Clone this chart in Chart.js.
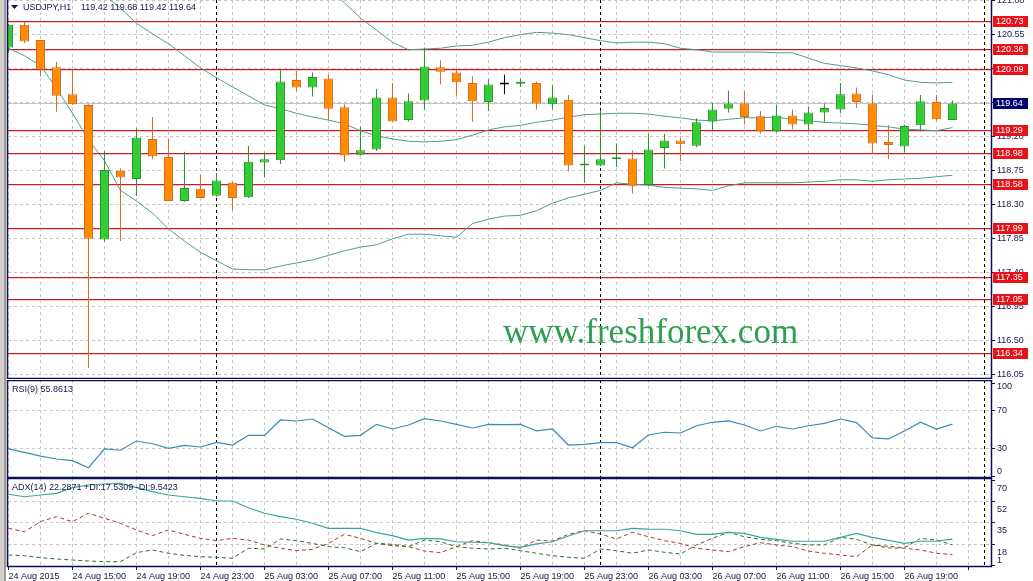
<!DOCTYPE html>
<html>
<head>
<meta charset="utf-8">
<script src="https://cdn.jsdelivr.net/npm/chart.js@4.4.0/dist/chart.umd.min.js"></script>
<style>
  html, body { margin: 0; padding: 0; background: #fff; }
  body { width: 1033px; height: 581px; position: relative; overflow: hidden; }
  canvas { position: absolute; left: 0; }
  #edge { position: absolute; left: 0; top: 0; width: 4px; height: 581px; background: #d4d0c8; border-right: 2px solid #9c9c9c; }
</style>
</head>
<body>
<canvas id="mainChart" width="1033" height="379" style="top:0"></canvas>
<canvas id="rsiChart" width="1033" height="98" style="top:380px"></canvas>
<canvas id="adxChart" width="1033" height="104" style="top:478px"></canvas>
<div id="edge"></div>
<script>
// USDJPY H1, one value per hourly bar (24 Aug 11:00 .. 26 Aug 22:00)
const opens = [120.38,120.68,120.48,120.12,119.76,119.62,117.84,118.75,118.64,119.17,
  118.93,118.35,118.51,118.42,118.59,118.40,118.86,118.89,119.95,119.85,
  119.97,119.59,118.96,119.03,119.72,119.42,119.68,120.12,120.05,119.91,
  119.66,119.89,119.90,119.91,119.63,119.69,118.82,118.82,118.90,118.91,
  118.56,119.05,119.15,119.08,119.40,119.57,119.64,119.47,119.27,119.48,
  119.36,119.52,119.56,119.77,119.64,119.13,119.07,119.35,119.66,119.42];
const highs = [120.69,120.72,120.48,120.19,120.09,119.63,119.01,118.78,119.31,119.46,
  119.17,119.00,118.70,118.72,118.60,119.08,118.99,120.08,120.07,120.05,
  120.02,119.63,119.33,119.83,119.91,119.77,120.38,120.21,120.08,120.00,
  119.96,120.02,119.97,119.93,119.88,119.75,119.08,119.55,119.11,119.02,
  119.24,119.24,119.19,119.44,119.65,119.81,119.80,119.54,119.62,119.56,
  119.60,119.64,119.91,119.85,119.76,119.35,119.36,119.75,119.75,119.68];
const lows = [120.31,120.44,120.00,119.53,119.62,116.14,117.81,117.82,118.42,118.90,
  118.35,118.34,118.39,118.41,118.23,118.39,118.66,118.84,119.80,119.73,
  119.42,118.87,118.95,119.01,119.40,119.40,119.56,119.89,119.74,119.40,
  119.54,119.76,119.86,119.56,119.56,118.74,118.59,118.81,118.80,118.45,
  118.55,118.78,118.88,119.06,119.29,119.52,119.36,119.24,119.26,119.30,
  119.27,119.39,119.51,119.58,118.97,118.90,118.99,119.27,119.41,119.42];
const closes = [120.68,120.46,120.09,119.74,119.63,117.85,118.76,118.66,119.19,118.94,
  118.35,118.52,118.39,118.62,118.39,118.87,118.90,119.93,119.85,119.99,
  119.57,118.95,119.02,119.72,119.40,119.67,120.13,120.06,119.92,119.67,
  119.89,119.89,119.92,119.64,119.72,118.82,118.83,118.90,118.91,118.55,
  119.03,119.15,119.10,119.39,119.56,119.64,119.46,119.27,119.48,119.36,
  119.52,119.58,119.76,119.66,119.11,119.09,119.34,119.67,119.43,119.64];

// Bollinger bands
const bbUpper = [122.97,122.86,122.78,122.71,122.64,122.57,122.50,122.49,122.40,122.29,
  122.26,122.17,122.12,122.03,121.93,121.83,121.67,121.54,121.41,121.30,
  121.17,120.97,120.77,120.61,120.45,120.35,120.36,120.37,120.40,120.41,
  120.45,120.51,120.55,120.58,120.57,120.55,120.51,120.47,120.44,120.45,
  120.45,120.43,120.37,120.35,120.32,120.32,120.32,120.32,120.31,120.31,
  120.24,120.17,120.14,120.11,120.07,120.02,119.95,119.92,119.91,119.92];
const bbMiddle = [121.67,121.56,121.46,121.35,121.25,121.17,121.07,120.90,120.70,120.56,
  120.43,120.27,120.11,119.98,119.86,119.74,119.62,119.57,119.51,119.46,
  119.42,119.37,119.28,119.21,119.17,119.14,119.13,119.14,119.16,119.22,
  119.29,119.33,119.35,119.39,119.42,119.46,119.49,119.50,119.51,119.51,
  119.50,119.47,119.45,119.42,119.41,119.43,119.45,119.45,119.46,119.43,
  119.41,119.39,119.38,119.37,119.35,119.33,119.30,119.29,119.28,119.32];
const bbLower = [120.37,120.27,120.14,119.84,119.51,119.16,118.88,118.49,118.35,118.19,
  117.98,117.82,117.67,117.56,117.45,117.44,117.44,117.49,117.53,117.57,
  117.63,117.69,117.74,117.77,117.85,117.91,117.91,117.89,117.87,118.05,
  118.11,118.15,118.16,118.22,118.32,118.39,118.44,118.49,118.59,118.57,
  118.56,118.53,118.52,118.51,118.49,118.55,118.59,118.59,118.59,118.59,
  118.60,118.61,118.63,118.63,118.61,118.63,118.64,118.65,118.67,118.69];

const rsi9 = [29.3,25.7,21.7,18.5,16.7,9.2,29.3,27.9,37.8,34.9,
  30.0,33.2,31.4,36.4,33.5,43.9,43.9,60.4,59.3,61.4,
  52.1,42.9,43.9,55.7,50.7,55.0,61.7,59.3,55.7,51.8,
  55.7,55.3,55.7,48.6,50.7,33.5,34.3,36.0,36.0,30.6,
  44.3,47.2,46.4,54.2,57.9,59.3,55.0,48.6,53.6,50.7,
  54.2,56.8,61.4,57.5,41.1,40.0,48.6,57.9,50.7,55.8613];

const adx14 = [58.9,56.9,58.3,59.7,64.3,66.5,67.3,67.9,64.3,61.0,
  58.3,56.9,55.6,53.4,53.4,47.9,43.4,40.6,38.5,35.2,
  31.1,31.1,31.1,27.5,25.1,21.5,22.9,22.4,20.1,19.7,
  19.3,16.9,15.5,18.3,20.1,24.8,29.1,29.1,29.1,31.1,
  30.5,30.3,29.1,26.2,26.2,27.8,27.0,23.7,22.1,20.5,
  20.5,20.5,23.7,27.0,23.7,21.3,18.8,20.5,20.5,22.2871];
const plusDI = [9.3,8.7,7.1,6.0,5.2,4.4,3.8,3.8,11.2,13.4,
  10.7,9.0,7.9,7.4,6.6,14.8,14.2,22.4,21.0,18.8,
  16.1,15.2,12.0,18.8,18.0,16.1,21.5,20.1,16.1,14.8,
  14.2,14.8,12.8,10.7,8.7,7.4,6.6,14.2,12.8,10.7,
  13.4,11.5,10.1,17.5,22.9,27.8,24.2,22.1,21.0,18.8,
  17.5,17.5,23.7,22.1,17.5,16.4,15.2,22.9,21.5,17.5309];
const minusDI = [31.1,28.3,36.5,40.6,36.5,43.4,39.3,35.2,29.7,25.1,
  29.7,26.2,22.9,21.0,22.9,21.5,17.5,14.8,12.8,13.9,
  18.8,26.2,22.9,18.8,16.9,16.1,12.5,11.2,16.1,21.0,
  19.3,17.5,14.8,21.5,20.7,26.2,29.1,26.4,22.4,27.8,
  24.2,21.0,18.8,14.8,13.4,12.0,16.1,19.3,17.5,16.1,
  12.5,10.7,9.3,7.9,17.5,15.0,14.8,13.4,10.7,9.5423];

// axes and levels
const timeLabels = ['24 Aug 2015','24 Aug 15:00','24 Aug 19:00','24 Aug 23:00','25 Aug 03:00',
  '25 Aug 07:00','25 Aug 11:00','25 Aug 15:00','25 Aug 19:00','25 Aug 23:00',
  '26 Aug 03:00','26 Aug 07:00','26 Aug 11:00','26 Aug 15:00','26 Aug 19:00'];
const daySeparators = [13, 37, 61];
const priceTicks = [121.00,120.55,120.10,119.65,119.20,118.75,118.30,117.85,117.40,116.95,116.50,116.05];
const levelLines = [120.73,120.36,120.09,119.29,118.98,118.58,117.99,117.35,117.05,116.34];
const rsiTicks = [100, 70, 30, 0];
const adxTicks = [70, 52.75, 35.5, 18.25, 1];

const INK = '#16164c';
const GRID = '#c6c6c6';
const FONT = '"Liberation Sans", Arial, sans-serif';
const BAND = '#4c9e8f';

const gridSlots = [];
for (let k = 0; k <= 60; k += 2) gridSlots.push(k);

const idx = opens.map((_, i) => i);
const trend = i => Math.sign(Math.round((closes[i] - opens[i]) * 1000));
const fillOf = i => trend(i) > 0 ? '#32cd32' : trend(i) < 0 ? '#ff8c00' : '#000';
const edgeOf = i => trend(i) > 0 ? '#2b8f2b' : trend(i) < 0 ? '#d2691e' : '#000';
const series = arr => arr.map((v, i) => ({ x: i, y: v }));

function xScale(showLabels) {
  return {
    type: 'linear', min: -0.03, max: 61.41, offset: false,
    grid: {
      offset: false, color: GRID, drawTicks: showLabels, tickLength: 3, tickBorderDash: [],
      tickColor: c => (c.tick && c.tick.value % 4 === 0) ? INK : 'rgba(0,0,0,0)'
    },
    border: { display: false, dash: [3, 3] },
    ticks: {
      display: showLabels, autoSkip: false, maxRotation: 0, minRotation: 0, align: 'start',
      padding: 1, color: INK, font: { family: FONT, size: 9 },
      callback: v => (v % 4 === 0 && timeLabels[v / 4]) || ''
    },
    afterBuildTicks: s => { s.ticks = gridSlots.map(v => ({ value: v })); },
    afterFit: s => { s.height = showLabels ? 15 : 0; }
  };
}

function yScale(min, max, values, hidden) {
  return {
    position: 'right', min: min, max: max,
    grid: {
      color: c => (c.tick && hidden.includes(c.tick.value)) ? 'rgba(0,0,0,0)' : GRID,
      tickColor: INK, tickLength: 4, tickBorderDash: []
    },
    border: { display: false, dash: [3, 3] },
    ticks: { display: false },
    afterBuildTicks: s => { s.ticks = values.map(v => ({ value: v })); },
    afterFit: s => { s.width = 42; }
  };
}

function baseOptions(x, y) {
  return {
    responsive: false, animation: false, events: [],
    layout: { padding: { left: 8, right: 0, top: 0, bottom: 0 }, autoPadding: false },
    plugins: { legend: { display: false }, tooltip: { enabled: false } },
    scales: { x: x, y: y }
  };
}

function hLine(ctx, a, py, color, halo) {
  const yy = Math.round(py) + 0.5;
  ctx.lineWidth = 1;
  ctx.setLineDash([]);
  if (halo) {
    ctx.strokeStyle = halo;
    ctx.beginPath();
    ctx.moveTo(a.left, yy + 1);
    ctx.lineTo(a.right, yy + 1);
    ctx.stroke();
  }
  ctx.strokeStyle = color;
  ctx.beginPath();
  ctx.moveTo(a.left, yy);
  ctx.lineTo(a.right, yy);
  ctx.stroke();
}

function drawSeparators(chart) {
  const { ctx, chartArea: a, scales: { x } } = chart;
  ctx.save();
  ctx.strokeStyle = '#000';
  ctx.lineWidth = 1;
  ctx.setLineDash([3, 3]);
  daySeparators.forEach(k => {
    const px = Math.round(x.getPixelForValue(k)) + 0.5;
    if (px < a.left || px > a.right) return;
    ctx.beginPath();
    ctx.moveTo(px, a.top);
    ctx.lineTo(px, a.bottom);
    ctx.stroke();
  });
  ctx.restore();
}

// panel outline; the price panel has no top edge, it starts at the window top
function drawFrame(chart, withTop) {
  const { ctx, chartArea: a } = chart;
  const l = a.left - 0.5, r = a.right + 0.5, t = a.top + 0.5, b = a.bottom - 0.5;
  ctx.save();
  ctx.strokeStyle = '#0c0c58';
  ctx.lineWidth = 1.5;
  ctx.beginPath();
  if (withTop) {
    ctx.moveTo(l, b); ctx.lineTo(l, t); ctx.lineTo(r, t); ctx.lineTo(r, b); ctx.closePath();
  } else {
    ctx.moveTo(l, a.top); ctx.lineTo(l, b); ctx.lineTo(r, b); ctx.lineTo(r, a.top);
  }
  ctx.stroke();
  ctx.restore();
}

function drawAxisLabels(chart, values, fmt, shift, clamp) {
  const { ctx, chartArea: a, scales: { y } } = chart;
  ctx.save();
  ctx.font = '9px ' + FONT;
  ctx.fillStyle = INK;
  ctx.textAlign = 'left';
  ctx.textBaseline = 'middle';
  values.forEach(v => {
    let py = y.getPixelForValue(v) + shift;
    if (clamp) py = Math.min(Math.max(py, a.top + 7), a.bottom - 6);
    ctx.fillText(fmt(v), a.right + 6, py);
  });
  ctx.restore();
}

function priceTag(ctx, a, py, text, bg) {
  const top = Math.round(py) - 5;
  ctx.fillStyle = bg;
  ctx.fillRect(a.right + 2, top, 35, 11);
  ctx.fillStyle = '#fff';
  ctx.fillText(text, a.right + 5, top + 6);
}

function caption(ctx, text, x, y) {
  ctx.save();
  ctx.font = '9px ' + FONT;
  ctx.fillStyle = INK;
  ctx.textAlign = 'left';
  ctx.textBaseline = 'middle';
  ctx.fillText(text, x, y);
  ctx.restore();
}

const last = closes.length - 1;

const mainPanel = {
  id: 'mainPanel',
  beforeDatasetsDraw(chart) {
    const { ctx, chartArea: a, scales: { y } } = chart;
    ctx.save();
    hLine(ctx, a, y.getPixelForValue(closes[last]), '#c4c4c4');
    levelLines.forEach(v => hLine(ctx, a, y.getPixelForValue(v), '#cc1a1f', '#f4c9c9'));
    ctx.restore();
    drawSeparators(chart);
  },
  afterDraw(chart) {
    const { ctx, chartArea: a, scales: { y } } = chart;
    drawFrame(chart, false);
    drawAxisLabels(chart, priceTicks, v => v.toFixed(2), 0, false);

    ctx.save();
    ctx.font = '9px ' + FONT;
    ctx.textAlign = 'left';
    ctx.textBaseline = 'middle';
    levelLines.forEach(v => priceTag(ctx, a, y.getPixelForValue(v), v.toFixed(2), '#e8121a'));
    priceTag(ctx, a, y.getPixelForValue(closes[last]), closes[last].toFixed(2), '#00006e');
    ctx.restore();

    // symbol header
    ctx.save();
    ctx.fillStyle = INK;
    ctx.beginPath();
    ctx.moveTo(11, 5); ctx.lineTo(18, 5); ctx.lineTo(14.5, 9);
    ctx.closePath();
    ctx.fill();
    ctx.restore();
    caption(ctx, 'USDJPY,H1', 23, 7.5);
    caption(ctx, [opens[last], highs[last], lows[last], closes[last]].map(v => v.toFixed(2)).join(' '), 81, 7.5);

    // watermark
    ctx.save();
    ctx.font = '35px "Liberation Serif", "Times New Roman", serif';
    ctx.fillStyle = '#2f9e4f';
    ctx.textAlign = 'left';
    ctx.textBaseline = 'alphabetic';
    ctx.fillText('www.freshforex.com', 503, 343);
    ctx.restore();
  }
};

const rsiPanel = {
  id: 'rsiPanel',
  beforeDatasetsDraw: drawSeparators,
  afterDraw(chart) {
    drawFrame(chart, true);
    drawAxisLabels(chart, rsiTicks, v => String(v), 0, true);
    caption(chart.ctx, 'RSI(9) ' + rsi9[last].toFixed(4), 12, chart.chartArea.top + 10);
  }
};

const adxPanel = {
  id: 'adxPanel',
  beforeDatasetsDraw: drawSeparators,
  afterDraw(chart) {
    drawFrame(chart, true);
    drawAxisLabels(chart, adxTicks, v => String(Math.floor(v)), 8, true);
    caption(chart.ctx, 'ADX(14) ' + adx14[last].toFixed(4) + ' +DI:' + plusDI[last].toFixed(4) +
      ' -DI:' + minusDI[last].toFixed(4), 12, chart.chartArea.top + 10);
  }
};

const band = arr => ({ type: 'line', data: series(arr), borderColor: BAND, borderWidth: 1, pointRadius: 0, tension: 0, order: 3 });

new Chart(document.getElementById('mainChart'), {
  type: 'bar',
  data: {
    datasets: [
      band(bbUpper), band(bbMiddle), band(bbLower),
      {
        type: 'bar', data: idx.map(i => ({ x: i, y: [lows[i], highs[i]] })),
        backgroundColor: idx.map(edgeOf), borderWidth: 0, barThickness: 1,
        grouped: false, inflateAmount: 0, order: 2
      },
      {
        type: 'bar', data: idx.map(i => ({ x: i, y: [opens[i], closes[i]] })),
        backgroundColor: idx.map(fillOf), borderColor: idx.map(edgeOf), borderWidth: 1,
        borderSkipped: false, barThickness: 9, minBarLength: 2,
        grouped: false, inflateAmount: 0, order: 1
      }
    ]
  },
  options: baseOptions(xScale(false), yScale(115.995, 121.008, priceTicks, [])),
  plugins: [mainPanel]
});

new Chart(document.getElementById('rsiChart'), {
  type: 'line',
  data: {
    datasets: [
      { data: series(rsi9), borderColor: '#3a8cb3', borderWidth: 1.2, pointRadius: 0, tension: 0 }
    ]
  },
  options: baseOptions(xScale(false), yScale(-1.85, 103.24, rsiTicks, [100, 0])),
  plugins: [rsiPanel]
});

new Chart(document.getElementById('adxChart'), {
  type: 'line',
  data: {
    datasets: [
      { data: series(adx14), borderColor: '#3aa3a0', borderWidth: 1.2, pointRadius: 0, tension: 0 },
      { data: series(plusDI), borderColor: '#2d6e2d', borderWidth: 1, borderDash: [4, 3], pointRadius: 0, tension: 0 },
      { data: series(minusDI), borderColor: '#b8302c', borderWidth: 1, borderDash: [4, 3], pointRadius: 0, tension: 0 }
    ]
  },
  options: baseOptions(xScale(true), yScale(-0.53, 72.2, adxTicks, [70, 1])),
  plugins: [adxPanel]
});
</script>
</body>
</html>
